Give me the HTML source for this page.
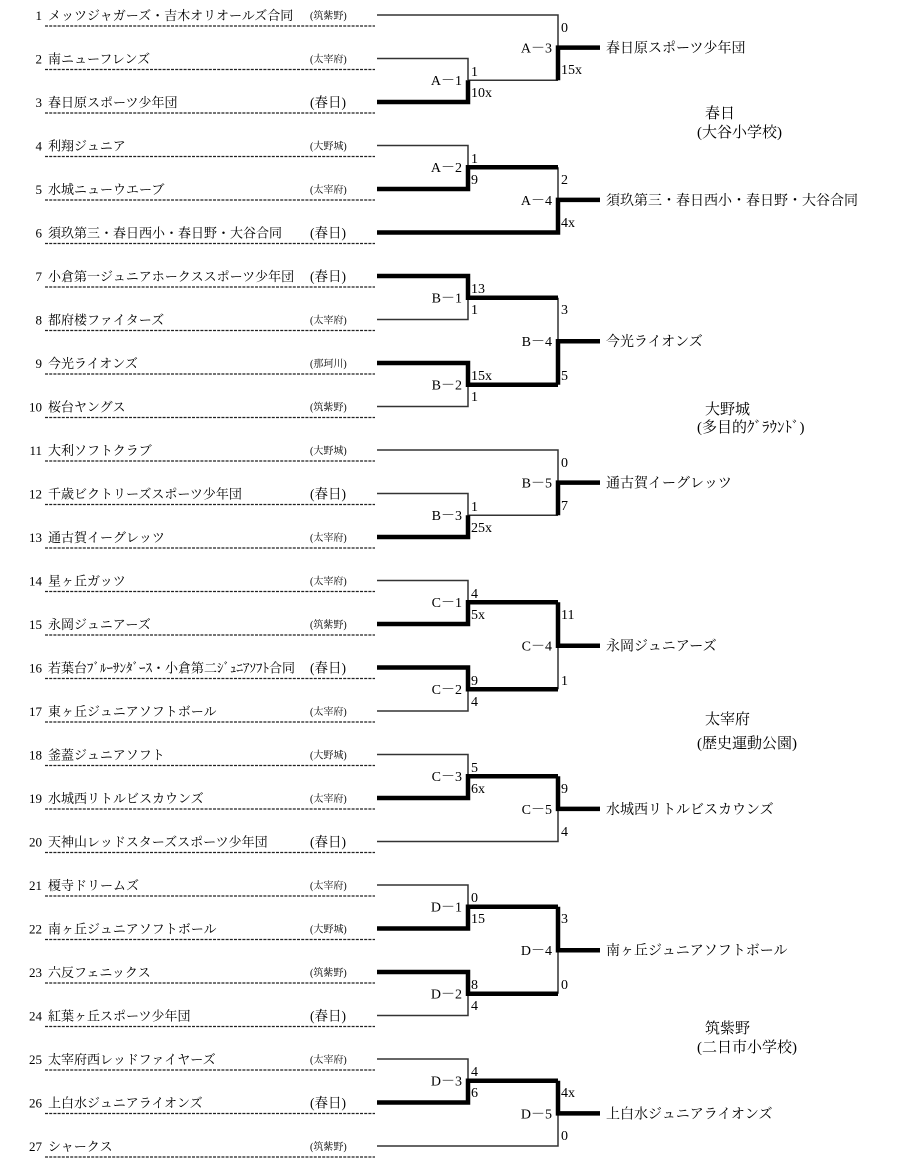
<!DOCTYPE html>
<html><head><meta charset="utf-8"><style>
html,body{margin:0;padding:0;background:#fff;}
svg{display:block;font-family:"Liberation Serif","Noto Serif CJK JP","Noto Serif CJK SC",serif;}
.n{font-size:13px;text-anchor:end}
.t{font-size:13px}
.r{font-size:10px}
.rb{font-size:13.5px}
.m{font-size:14px;text-anchor:end}
.s{font-size:14px}
.w{font-size:14px}
.v{font-size:15px}
.th{fill:none;stroke:#333;stroke-width:1.5}
.tk{fill:none;stroke:#000;stroke-width:4.5}
.d{stroke:#222;stroke-width:1.3;stroke-dasharray:3,1.2}
</style></head><body>
<svg width="900" height="1169" viewBox="0 0 900 1169" xmlns="http://www.w3.org/2000/svg">
<g class="d">
<line x1="45" y1="26" x2="375" y2="26"/><line x1="45" y1="69.5" x2="375" y2="69.5"/><line x1="45" y1="113" x2="375" y2="113"/>
<line x1="45" y1="156.5" x2="375" y2="156.5"/><line x1="45" y1="200" x2="375" y2="200"/><line x1="45" y1="243.5" x2="375" y2="243.5"/>
<line x1="45" y1="287" x2="375" y2="287"/><line x1="45" y1="330.5" x2="375" y2="330.5"/><line x1="45" y1="374" x2="375" y2="374"/>
<line x1="45" y1="417.5" x2="375" y2="417.5"/><line x1="45" y1="461" x2="375" y2="461"/><line x1="45" y1="504.5" x2="375" y2="504.5"/>
<line x1="45" y1="548" x2="375" y2="548"/><line x1="45" y1="591.5" x2="375" y2="591.5"/><line x1="45" y1="635" x2="375" y2="635"/>
<line x1="45" y1="678.5" x2="375" y2="678.5"/><line x1="45" y1="722" x2="375" y2="722"/><line x1="45" y1="765.5" x2="375" y2="765.5"/>
<line x1="45" y1="809" x2="375" y2="809"/><line x1="45" y1="852.5" x2="375" y2="852.5"/><line x1="45" y1="896" x2="375" y2="896"/>
<line x1="45" y1="939.5" x2="375" y2="939.5"/><line x1="45" y1="983" x2="375" y2="983"/><line x1="45" y1="1026.5" x2="375" y2="1026.5"/>
<line x1="45" y1="1070" x2="375" y2="1070"/><line x1="45" y1="1113.5" x2="375" y2="1113.5"/><line x1="45" y1="1157" x2="375" y2="1157"/>
</g>
<g>
<text class="n" x="42" y="20">1</text><text class="t" x="48" y="20">メッツジャガーズ・吉木オリオールズ合同</text><text class="r" x="310" y="19">(筑紫野)</text>
<text class="n" x="42" y="63.5">2</text><text class="t" x="48" y="63.5">南ニューフレンズ</text><text class="r" x="310" y="62.5">(太宰府)</text>
<text class="n" x="42" y="107">3</text><text class="t" x="48" y="107">春日原スポーツ少年団</text><text class="rb" x="310" y="107">(春日)</text>
<text class="n" x="42" y="150.5">4</text><text class="t" x="48" y="150.5">利翔ジュニア</text><text class="r" x="310" y="149.5">(大野城)</text>
<text class="n" x="42" y="194">5</text><text class="t" x="48" y="194">水城ニューウエーブ</text><text class="r" x="310" y="193">(太宰府)</text>
<text class="n" x="42" y="237.5">6</text><text class="t" x="48" y="237.5">須玖第三・春日西小・春日野・大谷合同</text><text class="rb" x="310" y="237.5">(春日)</text>
<text class="n" x="42" y="281">7</text><text class="t" x="48" y="281">小倉第一ジュニアホークススポーツ少年団</text><text class="rb" x="310" y="281">(春日)</text>
<text class="n" x="42" y="324.5">8</text><text class="t" x="48" y="324.5">都府楼ファイターズ</text><text class="r" x="310" y="323.5">(太宰府)</text>
<text class="n" x="42" y="368">9</text><text class="t" x="48" y="368">今光ライオンズ</text><text class="r" x="310" y="367">(那珂川)</text>
<text class="n" x="42" y="411.5">10</text><text class="t" x="48" y="411.5">桜台ヤングス</text><text class="r" x="310" y="410.5">(筑紫野)</text>
<text class="n" x="42" y="455">11</text><text class="t" x="48" y="455">大利ソフトクラブ</text><text class="r" x="310" y="454">(大野城)</text>
<text class="n" x="42" y="498.5">12</text><text class="t" x="48" y="498.5">千歳ビクトリーズスポーツ少年団</text><text class="rb" x="310" y="498.5">(春日)</text>
<text class="n" x="42" y="542">13</text><text class="t" x="48" y="542">通古賀イーグレッツ</text><text class="r" x="310" y="541">(太宰府)</text>
<text class="n" x="42" y="585.5">14</text><text class="t" x="48" y="585.5">星ヶ丘ガッツ</text><text class="r" x="310" y="584.5">(太宰府)</text>
<text class="n" x="42" y="629">15</text><text class="t" x="48" y="629">永岡ジュニアーズ</text><text class="r" x="310" y="628">(筑紫野)</text>
<text class="n" x="42" y="672.5">16</text><text class="t" x="48" y="672.5">若葉台ﾌﾞﾙｰｻﾝﾀﾞｰｽ・小倉第二ｼﾞｭﾆｱｿﾌﾄ合同</text><text class="rb" x="310" y="672.5">(春日)</text>
<text class="n" x="42" y="716">17</text><text class="t" x="48" y="716">東ヶ丘ジュニアソフトボール</text><text class="r" x="310" y="715">(太宰府)</text>
<text class="n" x="42" y="759.5">18</text><text class="t" x="48" y="759.5">釜蓋ジュニアソフト</text><text class="r" x="310" y="758.5">(大野城)</text>
<text class="n" x="42" y="803">19</text><text class="t" x="48" y="803">水城西リトルビスカウンズ</text><text class="r" x="310" y="802">(太宰府)</text>
<text class="n" x="42" y="846.5">20</text><text class="t" x="48" y="846.5">天神山レッドスターズスポーツ少年団</text><text class="rb" x="310" y="846.5">(春日)</text>
<text class="n" x="42" y="890">21</text><text class="t" x="48" y="890">榎寺ドリームズ</text><text class="r" x="310" y="889">(太宰府)</text>
<text class="n" x="42" y="933.5">22</text><text class="t" x="48" y="933.5">南ヶ丘ジュニアソフトボール</text><text class="r" x="310" y="932.5">(大野城)</text>
<text class="n" x="42" y="977">23</text><text class="t" x="48" y="977">六反フェニックス</text><text class="r" x="310" y="976">(筑紫野)</text>
<text class="n" x="42" y="1020.5">24</text><text class="t" x="48" y="1020.5">紅葉ヶ丘スポーツ少年団</text><text class="rb" x="310" y="1020.5">(春日)</text>
<text class="n" x="42" y="1064">25</text><text class="t" x="48" y="1064">太宰府西レッドファイヤーズ</text><text class="r" x="310" y="1063">(太宰府)</text>
<text class="n" x="42" y="1107.5">26</text><text class="t" x="48" y="1107.5">上白水ジュニアライオンズ</text><text class="rb" x="310" y="1107.5">(春日)</text>
<text class="n" x="42" y="1151">27</text><text class="t" x="48" y="1151">シャークス</text><text class="r" x="310" y="1150">(筑紫野)</text>
</g>
<g class="th">
<polyline points="377,58.5 468,58.5 468,80.25"/><polyline points="468,80.25 558,80.25"/>
<polyline points="377,15 558,15 558,47.6"/>
<polyline points="377,145.5 468,145.5 468,167.25"/><polyline points="558,167.25 558,199.9"/>
<polyline points="377,319.5 468,319.5 468,297.75"/>
<polyline points="377,406.5 468,406.5 468,384.75"/>
<polyline points="558,297.75 558,341.25"/>
<polyline points="377,493.5 468,493.5 468,515.25 558,515.25"/>
<polyline points="377,450 558,450 558,482.6"/>
<polyline points="377,580.5 468,580.5 468,602.25"/>
<polyline points="377,711 468,711 468,689.25"/>
<polyline points="558,689.25 558,645.75"/>
<polyline points="377,754.5 468,754.5 468,776.25"/>
<polyline points="377,841.5 558,841.5 558,808.9"/>
<polyline points="377,885 468,885 468,906.75"/>
<polyline points="377,1015.5 468,1015.5 468,993.75"/>
<polyline points="558,993.75 558,950.25"/>
<polyline points="377,1059 468,1059 468,1080.75"/>
<polyline points="377,1146 558,1146 558,1113.4"/>
</g>
<g class="tk">
<polyline points="377,102 468,102 468,80.25"/>
<polyline points="558,80.25 558,47.6 600,47.6"/>
<polyline points="377,189 468,189 468,167.25 558,167.25"/>
<polyline points="377,232.5 558,232.5 558,199.9 600,199.9"/>
<polyline points="377,276 468,276 468,297.75 558,297.75"/>
<polyline points="377,363 468,363 468,384.75 558,384.75"/>
<polyline points="558,384.75 558,341.25 600,341.25"/>
<polyline points="377,537 468,537 468,515.25"/>
<polyline points="558,515.25 558,482.6 600,482.6"/>
<polyline points="377,624 468,624 468,602.25 558,602.25"/>
<polyline points="377,667.5 468,667.5 468,689.25 558,689.25"/>
<polyline points="558,602.25 558,645.75 600,645.75"/>
<polyline points="377,798 468,798 468,776.25 558,776.25"/>
<polyline points="558,776.25 558,808.9 600,808.9"/>
<polyline points="377,928.5 468,928.5 468,906.75 558,906.75"/>
<polyline points="377,972 468,972 468,993.75 558,993.75"/>
<polyline points="558,906.75 558,950.25 600,950.25"/>
<polyline points="377,1102.5 468,1102.5 468,1080.75 558,1080.75"/>
<polyline points="558,1080.75 558,1113.4 600,1113.4"/>
</g>
<g class="m">
<text x="462" y="85">A－1</text><text x="552" y="52.5">A－3</text>
<text x="462" y="172">A－2</text><text x="552" y="205">A－4</text>
<text x="462" y="302.5">B－1</text><text x="462" y="389.5">B－2</text><text x="552" y="346">B－4</text>
<text x="462" y="520">B－3</text><text x="552" y="487.5">B－5</text>
<text x="462" y="607">C－1</text><text x="462" y="694">C－2</text><text x="552" y="650.5">C－4</text>
<text x="462" y="781">C－3</text><text x="552" y="814">C－5</text>
<text x="462" y="911.5">D－1</text><text x="462" y="998.5">D－2</text><text x="552" y="955">D－4</text>
<text x="462" y="1085.5">D－3</text><text x="552" y="1118.5">D－5</text>
</g>
<g class="s">
<text x="471" y="76">1</text><text x="471" y="97">10x</text>
<text x="561" y="32">0</text><text x="561" y="74">15x</text>
<text x="471" y="163">1</text><text x="471" y="184">9</text>
<text x="561" y="184">2</text><text x="561" y="227">4x</text>
<text x="471" y="293">13</text><text x="471" y="314">1</text>
<text x="471" y="380">15x</text><text x="471" y="401">1</text>
<text x="561" y="314">3</text><text x="561" y="380">5</text>
<text x="471" y="511">1</text><text x="471" y="532">25x</text>
<text x="561" y="467">0</text><text x="561" y="510">7</text>
<text x="471" y="598">4</text><text x="471" y="619">5x</text>
<text x="471" y="685">9</text><text x="471" y="706">4</text>
<text x="561" y="619">11</text><text x="561" y="685">1</text>
<text x="471" y="772">5</text><text x="471" y="793">6x</text>
<text x="561" y="793">9</text><text x="561" y="836">4</text>
<text x="471" y="902">0</text><text x="471" y="923">15</text>
<text x="471" y="989">8</text><text x="471" y="1010">4</text>
<text x="561" y="923">3</text><text x="561" y="989">0</text>
<text x="471" y="1076">4</text><text x="471" y="1097">6</text>
<text x="561" y="1097">4x</text><text x="561" y="1140">0</text>
</g>
<g class="w">
<text x="606" y="52.5">春日原スポーツ少年団</text>
<text x="606" y="205">須玖第三・春日西小・春日野・大谷合同</text>
<text x="606" y="346">今光ライオンズ</text>
<text x="606" y="487.5">通古賀イーグレッツ</text>
<text x="606" y="650.5">永岡ジュニアーズ</text>
<text x="606" y="814">水城西リトルビスカウンズ</text>
<text x="606" y="955">南ヶ丘ジュニアソフトボール</text>
<text x="606" y="1118.5">上白水ジュニアライオンズ</text>
</g>
<g class="v">
<text x="705" y="118">春日</text><text x="697" y="137">(大谷小学校)</text>
<text x="705" y="414">大野城</text><text x="697" y="432">(多目的ｸﾞﾗｳﾝﾄﾞ)</text>
<text x="705" y="724">太宰府</text><text x="697" y="748">(歴史運動公園)</text>
<text x="705" y="1033">筑紫野</text><text x="697" y="1052">(二日市小学校)</text>
</g>
</svg>
</body></html>
